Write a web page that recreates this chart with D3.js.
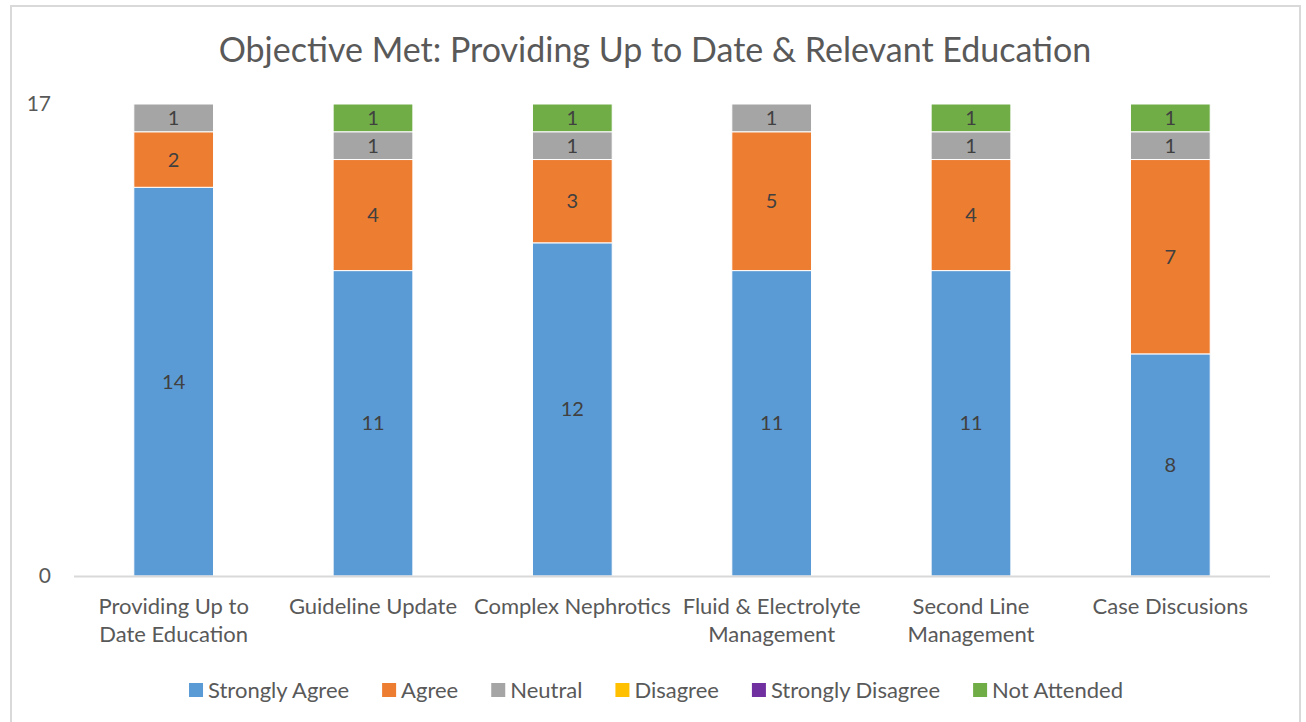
<!DOCTYPE html>
<html lang="en">
<head>
<meta charset="utf-8">
<script src="https://d3js.org/d3.v7.min.js"></script>
<style>
  body { margin: 0; background: #fff; }
  text { font-family: Lato, "Open Sans", sans-serif; }
</style>
</head>
<body>
<script>
// Chart data
var categories = [
  ["Providing Up to", "Date Education"],
  ["Guideline Update"],
  ["Complex Nephrotics"],
  ["Fluid & Electrolyte", "Management"],
  ["Second Line", "Management"],
  ["Case Discusions"]
];
var seriesNames = ["Strongly Agree", "Agree", "Neutral", "Disagree", "Strongly Disagree", "Not Attended"];
var seriesColors = ["#5b9bd5", "#ed7d31", "#a5a5a5", "#ffc000", "#7030a0", "#70ad47"];
var stronglyAgree = [14, 11, 12, 11, 11, 8];
var agree = [2, 4, 3, 5, 4, 7];
var neutral = [1, 1, 1, 1, 1, 1];
var disagree = [0, 0, 0, 0, 0, 0];
var stronglyDisagree = [0, 0, 0, 0, 0, 0];
var notAttended = [0, 1, 1, 0, 1, 1];
var yTicks = [0, 17];
var title = "Objective Met: Providing Up to Date & Relevant Education";

var w = 1306, h = 722;
var svg = d3.select("body").append("svg").attr("width", w).attr("height", h);

// chart frame
svg.append("rect")
  .attr("x", 11).attr("y", 6).attr("width", 1289).attr("height", 730)
  .attr("fill", "#fff").attr("stroke", "#d9d9d9").attr("stroke-width", 2);

// build table for the stack
var seriesValues = [stronglyAgree, agree, neutral, disagree, stronglyDisagree, notAttended];
var table = categories.map(function(c, i) {
  var row = { idx: i };
  seriesNames.forEach(function(s, j) { row[s] = seriesValues[j][i]; });
  return row;
});
var stacked = d3.stack().keys(seriesNames)(table);

var x = d3.scaleBand().domain(d3.range(categories.length)).range([74, 1270]).paddingInner(0.6).paddingOuter(0.3);
var y = d3.scaleLinear().domain([0, 17]).range([576, 104]);
var color = d3.scaleOrdinal().domain(seriesNames).range(seriesColors);

// title
svg.append("text")
  .attr("x", 655).attr("y", 62)
  .attr("text-anchor", "middle")
  .attr("font-size", 34)
  .attr("fill", "#595959")
  .text(title);

// y tick labels
svg.selectAll(".ytick").data(yTicks).enter().append("text")
  .attr("class", "ytick")
  .attr("x", 51).attr("y", function(d) { return y(d) + 7; })
  .attr("text-anchor", "end")
  .attr("font-size", 21)
  .attr("fill", "#595959")
  .text(function(d) { return d; });

// bars
var layer = svg.selectAll(".layer").data(stacked).enter().append("g")
  .attr("class", "layer")
  .attr("fill", function(d) { return color(d.key); });

layer.selectAll("rect").data(function(d) { return d; }).enter().append("rect")
  .attr("x", function(d) { return x(d.data.idx); })
  .attr("width", x.bandwidth())
  .attr("y", function(d) { return y(d[1]); })
  .attr("height", function(d) { return y(d[0]) - y(d[1]); })
  .attr("stroke", "#fff")
  .attr("stroke-width", function(d) { return d[1] > d[0] ? 1 : 0; });

// value labels
layer.selectAll("text").data(function(d) { return d.filter(function(p) { return p[1] > p[0]; }); })
  .enter().append("text")
  .attr("x", function(d) { return x(d.data.idx) + x.bandwidth() / 2; })
  .attr("y", function(d) { return (y(d[0]) + y(d[1])) / 2 + 7; })
  .attr("text-anchor", "middle")
  .attr("font-size", 20)
  .attr("fill", "#404040")
  .text(function(d) { return d[1] - d[0]; });

// x axis line
svg.append("line")
  .attr("x1", 74).attr("x2", 1270)
  .attr("y1", y(0) + 0.5).attr("y2", y(0) + 0.5)
  .attr("stroke", "#d9d9d9").attr("stroke-width", 2);

// category labels
var catG = svg.selectAll(".cat").data(categories).enter().append("text")
  .attr("class", "cat")
  .attr("text-anchor", "middle")
  .attr("font-size", 22)
  .attr("fill", "#595959");
catG.selectAll("tspan").data(function(d, i) { return d.map(function(t) { return { t: t, i: i }; }); })
  .enter().append("tspan")
  .attr("x", function(d) { return x(d.i) + x.bandwidth() / 2; })
  .attr("y", function(d, k) { return 614 + k * 28; })
  .text(function(d) { return d.t; });

// legend
var legend = svg.append("g");
var cursor = 0;
seriesNames.forEach(function(s) {
  var g = legend.append("g").attr("transform", "translate(" + cursor + ",0)");
  g.append("rect").attr("x", 0).attr("y", -15).attr("width", 14).attr("height", 14).attr("fill", color(s));
  var t = g.append("text").attr("x", 19).attr("y", 0).attr("font-size", 22).attr("fill", "#595959").text(s);
  cursor += 19 + t.node().getComputedTextLength() + 33;
});
var totalW = cursor - 33;
legend.attr("transform", "translate(" + (656 - totalW / 2) + ",698)");
</script>
</body>
</html>
